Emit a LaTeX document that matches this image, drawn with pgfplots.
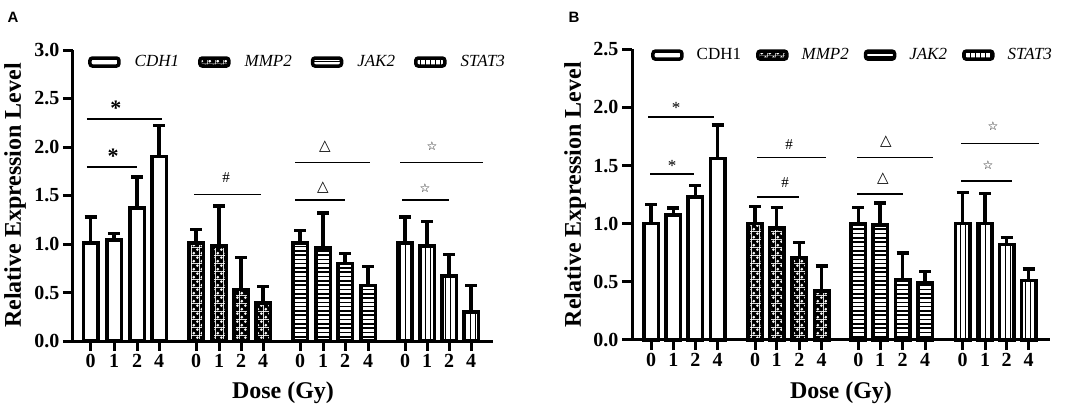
\documentclass[border=0pt]{standalone}
\usepackage{pgfplots}
\pgfplotsset{compat=1.18}
\usepackage{pgfplotstable}
\usepackage{fontspec}
\setmainfont{Liberation Serif}
\newfontfamily\arialf{Liberation Sans}
\newfontfamily\djv{DejaVu Sans}
\usetikzlibrary{patterns}

\pgfdeclarepatternformonly{hl}{\pgfpointorigin}{\pgfqpoint{100pt}{1.6pt}}{\pgfqpoint{100pt}{4.3pt}}{%
  \pgfsetlinewidth{1.6pt}%
  \pgfpathmoveto{\pgfqpoint{0pt}{0.8pt}}%
  \pgfpathlineto{\pgfqpoint{100pt}{0.8pt}}%
  \pgfusepath{stroke}}
\pgfdeclarepatternformonly{vl}{\pgfpointorigin}{\pgfqpoint{1.2pt}{100pt}}{\pgfqpoint{5pt}{100pt}}{%
  \pgfsetlinewidth{1.2pt}%
  \pgfpathmoveto{\pgfqpoint{0.6pt}{0pt}}%
  \pgfpathlineto{\pgfqpoint{0.6pt}{100pt}}%
  \pgfusepath{stroke}}
\pgfdeclarepatternformonly{ck}{\pgfpointorigin}{\pgfqpoint{8pt}{8pt}}{\pgfqpoint{8pt}{8pt}}{%
  \pgfpathrectangle{\pgfpointorigin}{\pgfqpoint{8pt}{8pt}}%
  \pgfpathcircle{\pgfqpoint{2pt}{2pt}}{1.9pt}%
  \pgfpathcircle{\pgfqpoint{6pt}{6pt}}{1.9pt}%
  \pgfseteorule
  \pgfusepath{fill}}

% panel A data: x (position), mean, sd
\pgfplotstableread{
x y e
90.7 1.01 0.27
114 1.04 0.07
137 1.37 0.32
159 1.90 0.32
}\Acdh
\pgfplotstableread{
x y e
196 1.01 0.14
219 0.98 0.41
241 0.53 0.33
263 0.39 0.17
}\Ammp
\pgfplotstableread{
x y e
300 1.01 0.13
323 0.96 0.36
345 0.80 0.10
368 0.57 0.20
}\Ajak
\pgfplotstableread{
x y e
405 1.01 0.27
427 0.98 0.25
449 0.67 0.22
471 0.30 0.27
}\Astat
% panel B data
\pgfplotstableread{
x y e
651 1.00 0.165
673.3 1.075 0.06
695.3 1.23 0.10
717.7 1.56 0.29
}\Bcdh
\pgfplotstableread{
x y e
755 1.00 0.15
776.7 0.965 0.175
799.3 0.71 0.13
821.7 0.42 0.215
}\Bmmp
\pgfplotstableread{
x y e
858.3 1.00 0.14
880 0.99 0.19
902.7 0.52 0.23
925 0.49 0.10
}\Bjak
\pgfplotstableread{
x y e
962.7 1.00 0.27
985 1.00 0.26
1006.7 0.82 0.06
1028.7 0.51 0.10
}\Bstat

\pgfplotsset{
  common/.style={
    scale only axis, ymin=0, clip=false,
    axis x line*=bottom, axis y line*=left,
    axis line style={line width=3pt, -},
    tick align=outside, major tick length=10pt,
    tick style={line width=3pt, black},
    tick label style={font=\bfseries\fontsize{20}{20}\selectfont},
    /pgf/number format/assume math mode=true,
    yticklabel style={/pgf/number format/.cd, fixed, fixed zerofill, precision=1},
    label style={font=\bfseries\fontsize{24}{24}\selectfont},
    xlabel={Dose (Gy)}, ylabel={Relative Expression Level},
    xticklabels={0,1,2,4,0,1,2,4,0,1,2,4,0,1,2,4},
    legend columns=4,
  },
  mybar/.style={ybar, bar width=14.5, bar shift=0pt, draw=black, line width=3.5pt,
    legend image code/.code={\draw[##1, line width=3.5pt, rounded corners=2.5pt] (0pt,-4pt) rectangle (29pt,4pt);}},
  sig/.style={black, line width=1.8pt, forget plot},
}

\begin{document}
\begin{tikzpicture}
\useasboundingbox (0,0) rectangle (1084pt,415pt);
\node[font=\arialf\bfseries\fontsize{15}{15}\selectfont] at (13pt,398pt) {A};
\node[font=\arialf\bfseries\fontsize{15}{15}\selectfont] at (574pt,398pt) {B};

\begin{axis}[common, at={(73pt,74pt)}, anchor=south west,
  width=420pt, height=291pt, xmin=73, xmax=493, ymax=3,
  ytick={0,0.5,...,3},
  xtick={90.7,114,137,159,196,219,241,263,300,323,345,368,405,427,449,471},
  xlabel style={at={(axis description cs:0.5,-0.179)}, anchor=center},
  ylabel style={at={(axis description cs:-0.138,0.5)}, anchor=center},
  legend style={at={(axis cs:88,2.876)}, anchor=west, draw=none, fill=none,
    inner sep=0pt, nodes={inner sep=0pt},
    font=\itshape\fontsize{17}{17}\selectfont,
    /tikz/every odd column/.append style={column sep=14pt},
    /tikz/every even column/.append style={column sep=19pt}},
]
\addplot[mybar, fill=white, error bars/.cd, y dir=plus, y explicit,
  error bar style={line width=3.5pt, black, solid}, error mark options={rotate=90, line width=3.5pt, mark size=6pt, black}]
  table[x=x, y=y, y error=e] {\Acdh};
\addlegendentry{CDH1}
\addplot[mybar, pattern=ck, error bars/.cd, y dir=plus, y explicit,
  error bar style={line width=3.5pt, black, solid}, error mark options={rotate=90, line width=3.5pt, mark size=6pt, black}]
  table[x=x, y=y, y error=e] {\Ammp};
\addlegendentry{MMP2}
\addplot[mybar, pattern=hl, error bars/.cd, y dir=plus, y explicit,
  error bar style={line width=3.5pt, black, solid}, error mark options={rotate=90, line width=3.5pt, mark size=6pt, black}]
  table[x=x, y=y, y error=e] {\Ajak};
\addlegendentry{JAK2}
\addplot[mybar, pattern=vl, error bars/.cd, y dir=plus, y explicit,
  error bar style={line width=3.5pt, black, solid}, error mark options={rotate=90, line width=3.5pt, mark size=6pt, black}]
  table[x=x, y=y, y error=e] {\Astat};
\addlegendentry{STAT3}
\addplot[sig] coordinates {(87,2.29) (162,2.29)};
\addplot[sig] coordinates {(87,1.79) (137,1.79)};
\addplot[sig] coordinates {(194,1.51) (261,1.51)};
\addplot[sig] coordinates {(295,1.84) (370,1.84)};
\addplot[sig] coordinates {(295,1.45) (345,1.45)};
\addplot[sig] coordinates {(400,1.84) (483,1.84)};
\addplot[sig] coordinates {(402,1.45) (449,1.45)};
\node[font=\bfseries\fontsize{22}{22}\selectfont] at (axis cs:116,2.40) {*};
\node[font=\bfseries\fontsize{22}{22}\selectfont] at (axis cs:113,1.90) {*};
\node[font=\fontsize{15}{15}\selectfont] at (axis cs:226,1.68) {\#};
\node[font=\djv\bfseries\fontsize{15}{15}\selectfont] at (axis cs:325,2.00) {△};
\node[font=\djv\bfseries\fontsize{15}{15}\selectfont] at (axis cs:323,1.58) {△};
\node[font=\djv\bfseries\fontsize{12}{12}\selectfont] at (axis cs:432,2.01) {☆};
\node[font=\djv\bfseries\fontsize{12}{12}\selectfont] at (axis cs:425,1.58) {☆};
\end{axis}

\begin{axis}[common, at={(632pt,75pt)}, anchor=south west,
  width=418pt, height=290.7pt, xmin=632, xmax=1050, ymax=2.5,
  ytick={0,0.5,...,2.5},
  xtick={651,673.3,695.3,717.7,755,776.7,799.3,821.7,858.3,880,902.7,925,962.7,985,1006.7,1028.7},
  xlabel style={at={(axis description cs:0.5,-0.182)}, anchor=center},
  ylabel style={at={(axis description cs:-0.136,0.5)}, anchor=center},
  legend style={at={(axis cs:651,2.45)}, anchor=west, draw=none, fill=none,
    inner sep=0pt, nodes={inner sep=0pt},
    font=\fontsize{17}{17}\selectfont,
    /tikz/every odd column/.append style={column sep=13pt},
    /tikz/every even column/.append style={column sep=15pt}},
]
\addplot[mybar, fill=white, error bars/.cd, y dir=plus, y explicit,
  error bar style={line width=3.5pt, black, solid}, error mark options={rotate=90, line width=3.5pt, mark size=6pt, black}]
  table[x=x, y=y, y error=e] {\Bcdh};
\addlegendentry{CDH1}
\addplot[mybar, pattern=ck, error bars/.cd, y dir=plus, y explicit,
  error bar style={line width=3.5pt, black, solid}, error mark options={rotate=90, line width=3.5pt, mark size=6pt, black}]
  table[x=x, y=y, y error=e] {\Bmmp};
\addlegendentry{\textit{MMP2}}
\addplot[mybar, pattern=hl, error bars/.cd, y dir=plus, y explicit,
  error bar style={line width=3.5pt, black, solid}, error mark options={rotate=90, line width=3.5pt, mark size=6pt, black}]
  table[x=x, y=y, y error=e] {\Bjak};
\addlegendentry{\textit{JAK2}}
\addplot[mybar, pattern=vl, error bars/.cd, y dir=plus, y explicit,
  error bar style={line width=3.5pt, black, solid}, error mark options={rotate=90, line width=3.5pt, mark size=6pt, black}]
  table[x=x, y=y, y error=e] {\Bstat};
\addlegendentry{\textit{STAT3}}
\addplot[sig] coordinates {(648,1.92) (714,1.92)};
\addplot[sig] coordinates {(650,1.43) (694,1.43)};
\addplot[sig] coordinates {(757,1.57) (826,1.57)};
\addplot[sig] coordinates {(757,1.23) (799,1.23)};
\addplot[sig] coordinates {(857,1.57) (933,1.57)};
\addplot[sig] coordinates {(857,1.255) (903,1.255)};
\addplot[sig] coordinates {(961,1.69) (1039,1.69)};
\addplot[sig] coordinates {(961,1.37) (1012,1.37)};
\node[font=\fontsize{17}{17}\selectfont] at (axis cs:676,2.00) {*};
\node[font=\fontsize{17}{17}\selectfont] at (axis cs:672,1.50) {*};
\node[font=\fontsize{15}{15}\selectfont] at (axis cs:789,1.68) {\#};
\node[font=\fontsize{15}{15}\selectfont] at (axis cs:785,1.35) {\#};
\node[font=\djv\bfseries\fontsize{15}{15}\selectfont] at (axis cs:886,1.71) {△};
\node[font=\djv\bfseries\fontsize{15}{15}\selectfont] at (axis cs:883,1.385) {△};
\node[font=\djv\bfseries\fontsize{12}{12}\selectfont] at (axis cs:993,1.84) {☆};
\node[font=\djv\bfseries\fontsize{12}{12}\selectfont] at (axis cs:988,1.50) {☆};
\end{axis}
\end{tikzpicture}
\end{document}
